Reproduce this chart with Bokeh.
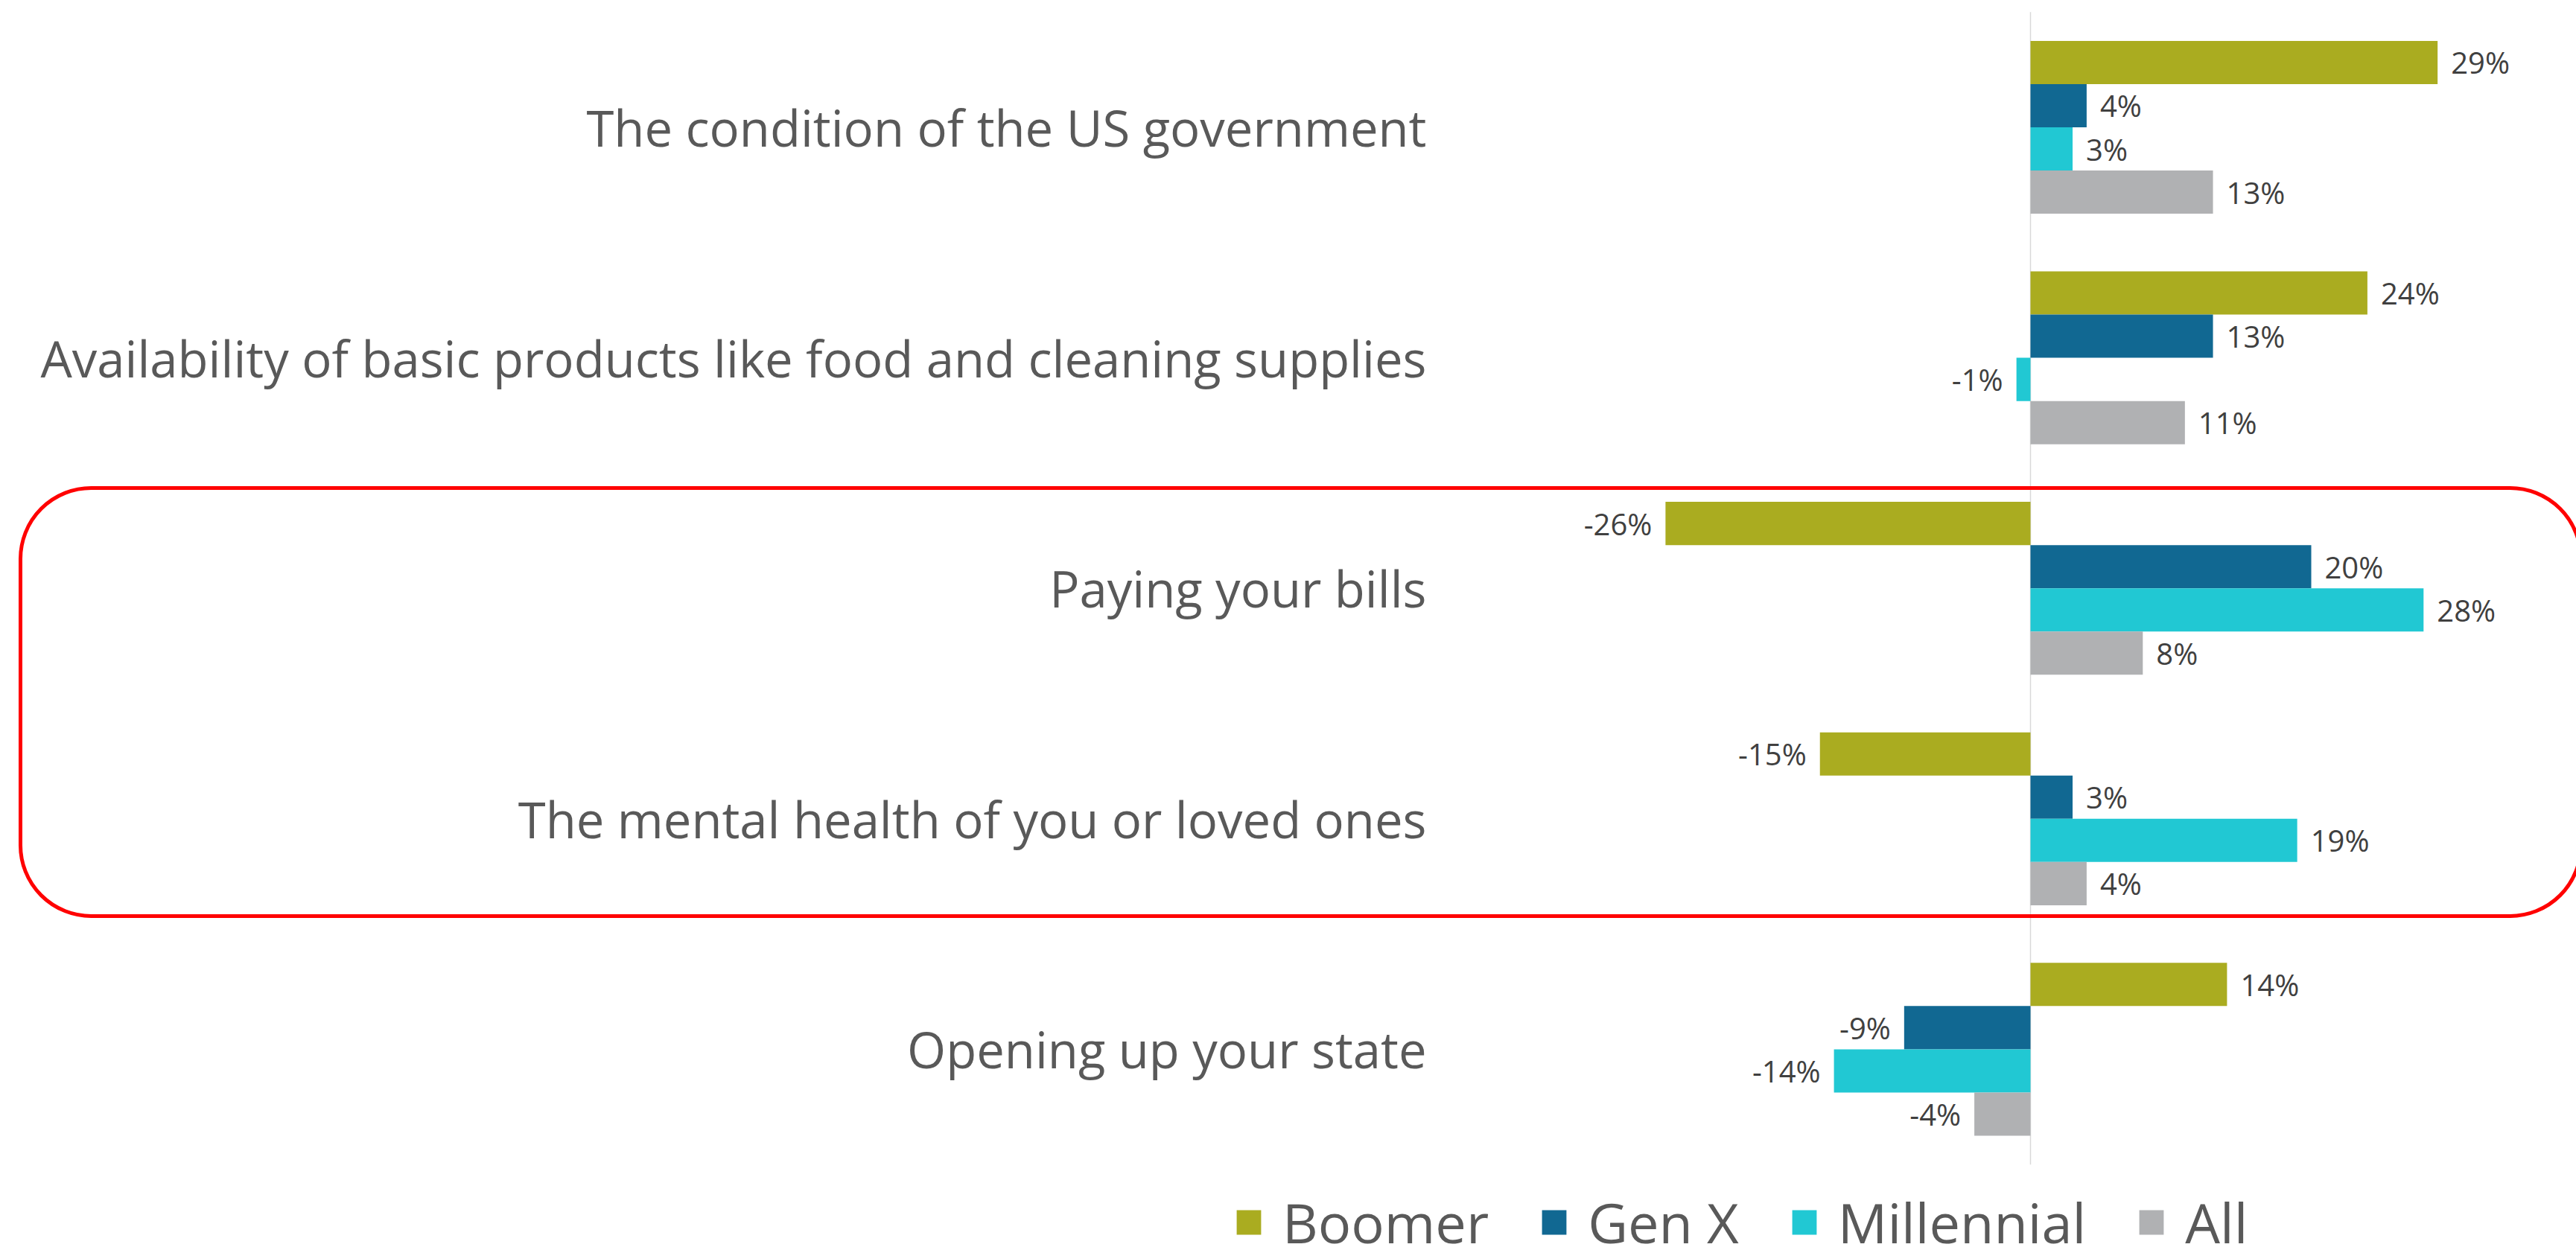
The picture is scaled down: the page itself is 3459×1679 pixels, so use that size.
from bokeh.plotting import figure
from bokeh.models import ColumnDataSource, Range1d, BoxAnnotation, Legend, LegendItem
from bokeh.transform import dodge
from bokeh.core.properties import value
from bokeh.embed import file_html
from bokeh.resources import INLINE

# ---------------- data ----------------
categories = [
    "The condition of the US government",
    "Availability of basic products like food and cleaning supplies",
    "Paying your bills",
    "The mental health of you or loved ones",
    "Opening up your state",
]
series_names = ["Boomer", "Gen X", "Millennial", "All"]
boomer = [29, 24, -26, -15, 14]
gen_x = [4, 13, 20, 3, -9]
millennial = [3, -1, 28, 19, -14]
all_gens = [13, 11, 8, 4, -4]
highlighted = [2, 3]  # categories inside the red outline

series_values = [boomer, gen_x, millennial, all_gens]
colors = ["#AAAC20", "#116892", "#21C8D3", "#B0B1B3"]

# ---------------- layout constants ----------------
W, H = 3459, 1679
PX_X = 18.85          # pixels per percentage point
ZERO_PX = 2726        # canvas x of 0 %
ROW_PX = 309.6        # pixels per category row
FIRST_ROW_PX = 170.5  # canvas y of first category centre
BAR_H = 0.1875
offsets = [1.5 * BAR_H, 0.5 * BAR_H, -0.5 * BAR_H, -1.5 * BAR_H]
FONT_NAME = "Open Sans"
FONT = value(FONT_NAME)

x_range = Range1d(-ZERO_PX / PX_X, (W - ZERO_PX) / PX_X)
y_top = FIRST_ROW_PX / ROW_PX
y_range = Range1d(y_top - H / ROW_PX, y_top)

p = figure(width=W, height=H, x_range=x_range, y_range=y_range,
           output_backend="svg", toolbar_location=None,
           x_axis_location=None, y_axis_location=None, min_border=0)
p.grid.visible = False
p.outline_line_color = None
p.background_fill_color = "white"

n = len(categories)
cat_y = [-i for i in range(n)]

# zero axis line spanning the category band
p.segment(x0=[0], y0=[0.5], x1=[0], y1=[-(n - 0.5)], line_color="#D9D9D9", line_width=1.5)

renderers = []
lab_x, lab_y, lab_t, lab_a, lab_o = [], [], [], [], []
for name, vals, col, off in zip(series_names, series_values, colors, offsets):
    src = ColumnDataSource(dict(y=cat_y, v=vals))
    r = p.hbar(y=dodge("y", off, range=p.y_range), left=0, right="v", height=BAR_H,
               source=src, fill_color=col, line_color=None)
    renderers.append(r)
    for yy, v in zip(cat_y, vals):
        lab_x.append(v)
        lab_y.append(yy + off)
        lab_t.append(f"{v}%")
        lab_a.append("left" if v >= 0 else "right")
        lab_o.append(18 if v >= 0 else -18)

lab_src = ColumnDataSource(dict(x=lab_x, y=lab_y, t=lab_t, a=lab_a, o=lab_o))
p.text(x="x", y="y", text="t", text_align="a", x_offset="o", text_baseline="middle",
       source=lab_src, text_font=FONT, text_font_size="40px", text_color="#404040")

# category labels
LABEL_X = (1915 - ZERO_PX) / PX_X
cat_src = ColumnDataSource(dict(x=[LABEL_X] * n, y=cat_y, t=categories))
p.text(x="x", y="y", text="t", text_align="right", text_baseline="middle",
       source=cat_src, text_font=FONT, text_font_size="67px", text_color="#595959")

# red rounded outline around highlighted categories
box = BoxAnnotation(left=x_range.start + 27 / PX_X, right=x_range.start + 3465 / PX_X,
                    top=-min(highlighted) + 0.435, bottom=-max(highlighted) - 0.422,
                    fill_color=None, line_color="#FF0000", line_alpha=1.0, line_width=5,
                    border_radius=95)
p.add_layout(box)

legend = Legend(items=[LegendItem(label=nm, renderers=[r]) for nm, r in zip(series_names, renderers)],
                orientation="horizontal", location=(1656, -13),
                glyph_width=41, glyph_height=41, label_standoff=25, spacing=67,
                label_text_font=FONT_NAME, label_text_font_size="74px", label_text_color="#595959",
                border_line_color=None, background_fill_alpha=0, padding=0, margin=0)
p.add_layout(legend)

open("out.html", "w").write(file_html(p, INLINE))
